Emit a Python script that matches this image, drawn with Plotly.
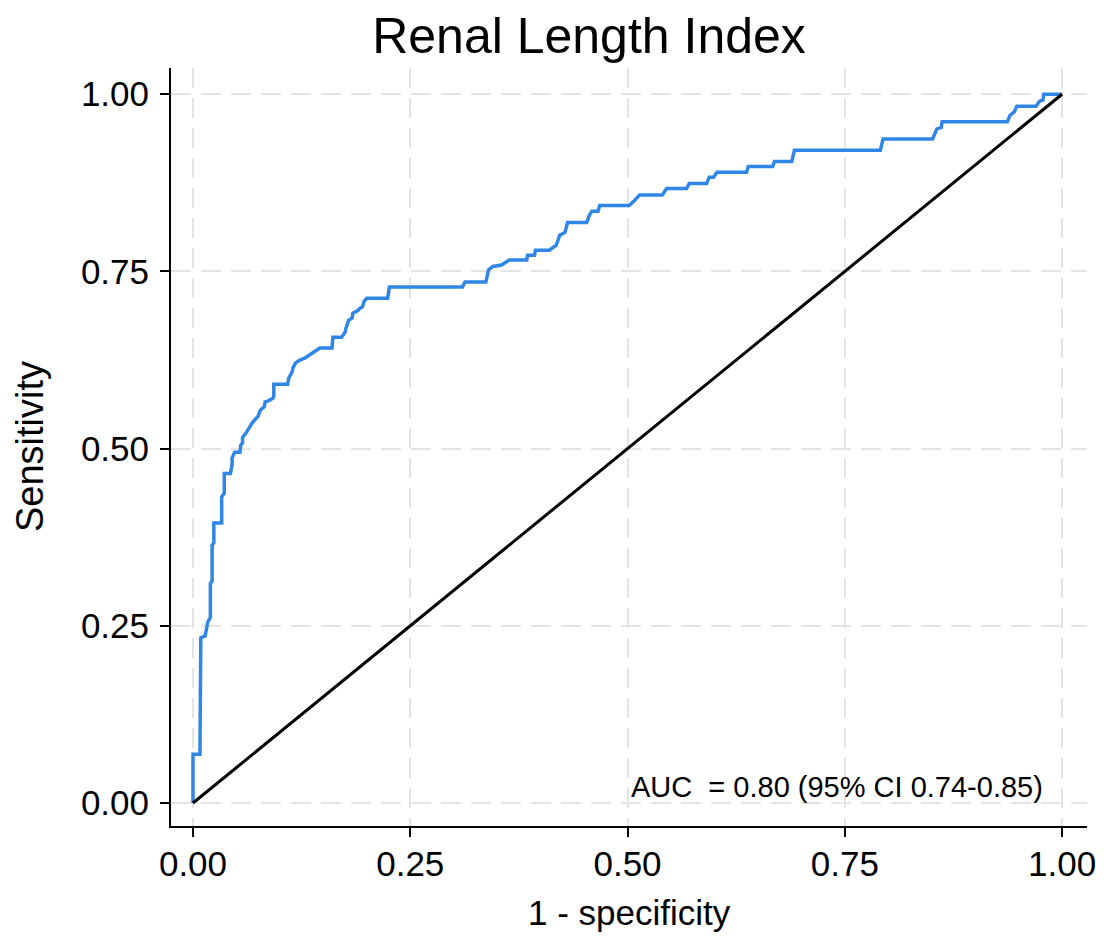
import plotly.graph_objects as go

# ROC curve vertices for the renal length index
fpr = [0, 0, 0.008, 0.008, 0.009, 0.009, 0.014, 0.017, 0.020, 0.020,
       0.022, 0.022, 0.024, 0.024, 0.033, 0.033, 0.036, 0.036, 0.043, 0.045,
       0.045, 0.048, 0.054, 0.055, 0.057, 0.057, 0.061, 0.063, 0.066, 0.068,
       0.075, 0.077, 0.079, 0.082, 0.083, 0.086, 0.092, 0.093, 0.093, 0.109,
       0.110, 0.114, 0.115, 0.118, 0.123, 0.129, 0.134, 0.141, 0.146, 0.160,
       0.161, 0.171, 0.175, 0.176, 0.179, 0.183, 0.184, 0.190, 0.192, 0.195,
       0.197, 0.200, 0.224, 0.226, 0.310, 0.313, 0.337, 0.340, 0.345, 0.355,
       0.364, 0.384, 0.385, 0.393, 0.394, 0.410, 0.414, 0.418, 0.420, 0.422,
       0.428, 0.431, 0.453, 0.456, 0.459, 0.466, 0.468, 0.502, 0.508, 0.514,
       0.540, 0.545, 0.568, 0.571, 0.591, 0.594, 0.599, 0.603, 0.637, 0.639,
       0.667, 0.669, 0.689, 0.692, 0.791, 0.794, 0.851, 0.853, 0.856, 0.861,
       0.862, 0.937, 0.940, 0.945, 0.948, 0.970, 0.974, 0.978, 0.979, 1.0]
tpr = [0, 0.069, 0.069, 0.162, 0.162, 0.233, 0.236, 0.255, 0.262, 0.310,
       0.313, 0.364, 0.367, 0.395, 0.395, 0.432, 0.437, 0.465, 0.465, 0.477,
       0.487, 0.495, 0.495, 0.505, 0.508, 0.516, 0.522, 0.526, 0.533, 0.536,
       0.546, 0.553, 0.556, 0.559, 0.566, 0.567, 0.571, 0.574, 0.591, 0.591,
       0.599, 0.608, 0.614, 0.621, 0.625, 0.628, 0.632, 0.638, 0.642, 0.642,
       0.657, 0.657, 0.664, 0.670, 0.681, 0.684, 0.691, 0.695, 0.698, 0.700,
       0.708, 0.712, 0.712, 0.728, 0.728, 0.735, 0.735, 0.752, 0.757, 0.759,
       0.766, 0.766, 0.773, 0.773, 0.780, 0.780, 0.783, 0.787, 0.794, 0.801,
       0.805, 0.819, 0.819, 0.829, 0.835, 0.835, 0.843, 0.843, 0.850, 0.858,
       0.858, 0.867, 0.867, 0.874, 0.874, 0.883, 0.883, 0.890, 0.890, 0.898,
       0.898, 0.905, 0.905, 0.921, 0.921, 0.937, 0.937, 0.944, 0.951, 0.953,
       0.961, 0.961, 0.970, 0.975, 0.983, 0.983, 0.990, 0.992, 1.0, 1.0]

# chance line
ref_x = [0, 1]
ref_y = [0, 1]

tick_vals = [0, 0.25, 0.5, 0.75, 1.0]
tick_text = ["0.00", "0.25", "0.50", "0.75", "1.00"]

auc_label = "AUC\u00a0 = 0.80 (95% CI 0.74-0.85)"

FONT = "Liberation Sans, Arial, Helvetica, sans-serif"

fig = go.Figure()
fig.add_trace(go.Scatter(x=fpr, y=tpr, mode="lines",
                         line=dict(color="#2f86e6", width=3.5),
                         showlegend=False, hoverinfo="skip"))
fig.add_trace(go.Scatter(x=ref_x, y=ref_y, mode="lines",
                         line=dict(color="black", width=3),
                         showlegend=False, hoverinfo="skip"))

axis_common = dict(
    tickvals=tick_vals, ticktext=tick_text,
    showline=True, linecolor="black", linewidth=2,
    ticks="outside", ticklen=9, tickwidth=2, tickcolor="black",
    showgrid=True, gridcolor="#e4e4e4", gridwidth=2, griddash="20px,10px",
    zeroline=False,
    tickfont=dict(family=FONT, size=35, color="black"),
)

fig.update_xaxes(range=[-0.0253, 1.0287], ticklabelstandoff=-3, **axis_common)
fig.update_yaxes(range=[-0.0324, 1.037], ticklabelstandoff=4, **axis_common)

fig.update_layout(
    width=1110, height=939,
    margin=dict(l=171, r=23, t=68, b=113),
    paper_bgcolor="white", plot_bgcolor="white",
    title=dict(text="Renal Length Index", x=589 / 1110, xref="container",
               xanchor="center", y=1 - 35 / 939, yref="container", yanchor="middle",
               font=dict(family=FONT, size=50, color="black")),
    annotations=[
        dict(text="1 - specificity", xref="paper", yref="paper",
             x=0.5, y=-(912 - 826) / (826 - 68), xanchor="center", yanchor="middle",
             showarrow=False, font=dict(family=FONT, size=35, color="black")),
        dict(text="Sensitivity", xref="paper", yref="paper",
             x=-(171 - 30) / (1087 - 171), y=0.5, xanchor="center", yanchor="middle",
             textangle=-90, showarrow=False,
             font=dict(family=FONT, size=38, color="black")),
        dict(text=auc_label, xref="x", yref="y", x=0.502, y=0.0226,
             xanchor="left", yanchor="middle", showarrow=False,
             font=dict(family=FONT, size=29, color="black")),
    ],
)

fig.write_html("out.html")
